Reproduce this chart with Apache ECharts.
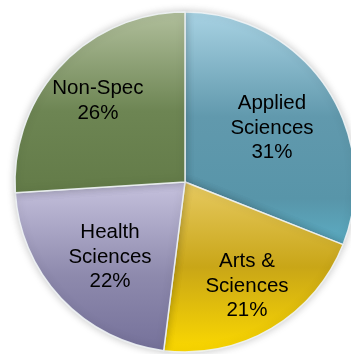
<!DOCTYPE html>
<html>
<head>
<meta charset="utf-8">
<script src="https://cdn.jsdelivr.net/npm/echarts@6/dist/echarts.min.js"></script>
<style>
  html, body { margin: 0; padding: 0; background: #fff; }
  #chart { width: 351px; height: 354px; }
</style>
</head>
<body>
<div id="chart"></div>
<script>
// Enrolment share by division
const divisions = ['Applied Sciences', 'Arts & Sciences', 'Health Sciences', 'Non-Spec'];
const shares = [31, 21, 22, 26];

// Vertical gradient stops for each slice (top -> bottom)
const sliceGradients = [
  [[0, '#a9d3e4'], [0.45, '#6199ad'], [0.8, '#5895a9'], [1, '#5cadc4']],
  [[0, '#e7ca62'], [0.5, '#c9a617'], [1, '#fcd900']],
  [[0, '#c6c2de'], [0.55, '#8e8aad'], [1, '#75719a']],
  [[0, '#b1bf9c'], [0.55, '#6d8553'], [1, '#637b48']]
];

// Label placement: fraction of the radius, and a small angular nudge (degrees)
const labelDistance = [0.602, 0.712, 0.624, 0.70];
const labelNudge = [2.4, -0.2, -1.8, -0.25];

const cx = 185, cy = 182, R = 170;
const total = shares.reduce((a, b) => a + b, 0);

const chart = echarts.init(document.getElementById('chart'), null, { renderer: 'canvas' });

chart.setOption({
  animation: false,
  series: [{
    type: 'pie',
    center: [cx, cy],
    radius: R,
    startAngle: 90,
    clockwise: true,
    avoidLabelOverlap: false,
    label: {
      show: true,
      position: 'inside',
      color: '#000',
      fontFamily: 'Liberation Sans, Arial, sans-serif',
      fontSize: 20.5,
      lineHeight: 24.5,
      align: 'center',
      formatter: p => p.name.replace(/ (?=\S+$)/, '\n') + '\n' + p.value + '%'
    },
    labelLine: { show: false },
    labelLayout: params => {
      const i = params.dataIndex;
      let before = 0;
      for (let k = 0; k < i; k++) before += shares[k];
      const mid = (before + shares[i] / 2) / total * 2 * Math.PI + labelNudge[i] * Math.PI / 180;
      const d = labelDistance[i] * R;
      return {
        x: cx + d * Math.sin(mid),
        y: cy - d * Math.cos(mid),
        align: 'center',
        verticalAlign: 'middle'
      };
    },
    itemStyle: {
      borderColor: 'rgba(240,244,246,0.9)',
      borderWidth: 1.5,
      shadowBlur: 8,
      shadowColor: 'rgba(0,0,0,0.22)'
    },
    emphasis: { disabled: true },
    data: divisions.map((name, i) => ({
      name,
      value: shares[i],
      itemStyle: {
        color: new echarts.graphic.LinearGradient(0, 0, 0, 1,
          sliceGradients[i].map(s => ({ offset: s[0], color: s[1] })))
      }
    }))
  }]
});
</script>
</body>
</html>
